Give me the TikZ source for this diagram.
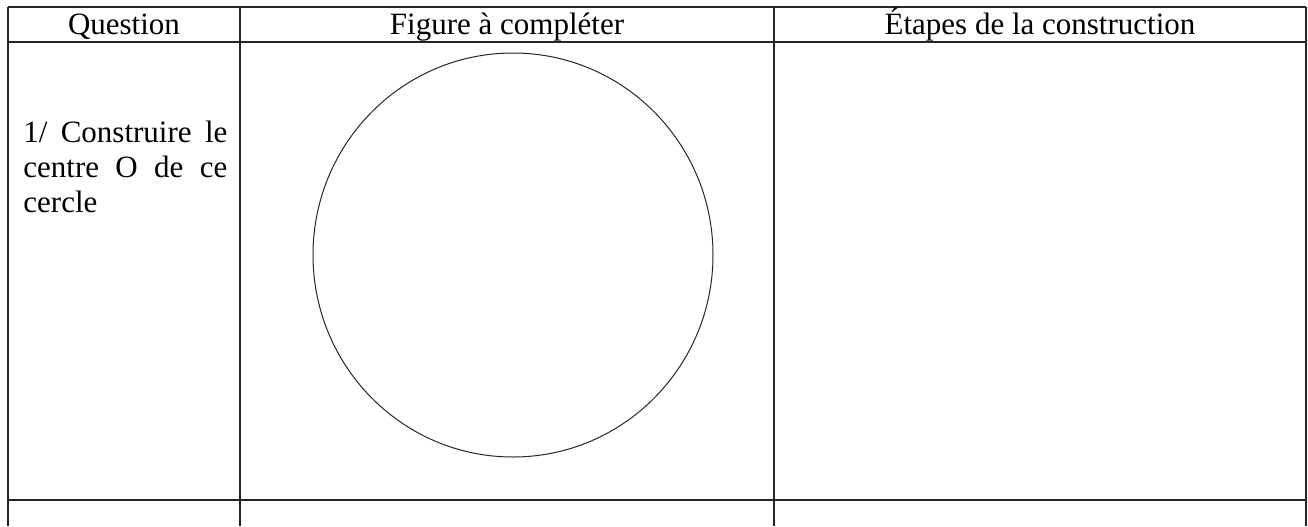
\documentclass[tikz,border=0pt]{standalone}
\usepackage{fontspec}
\setmainfont{Liberation Serif}
\usepackage{tikz}

\begin{document}
\begin{tikzpicture}[x=0.5pt,y=-0.5pt,line join=round,
  rule/.style={line width=0.7pt,black!85},
  txt/.style={inner sep=0pt,font=\fontsize{15.5}{17.5}\selectfont}]
  \useasboundingbox (0,0) rectangle (1308,526);
  \coordinate (N0) at (8,7);
  \coordinate (N1) at (240,7);
  \coordinate (N2) at (774,7);
  \coordinate (N3) at (1306,7);
  \coordinate (M0) at (8,42);
  \coordinate (M3) at (1306,42);
  \coordinate (L0) at (8,500);
  \coordinate (L3) at (1306,500);
  \coordinate (S0) at (8,526);
  \coordinate (S1) at (240,526);
  \coordinate (S2) at (774,526);
  \coordinate (S3) at (1306,526);
  \coordinate (O) at (513,255);
  \draw[rule] (N0) -- (N3);
  \draw[rule] (M0) -- (M3);
  \draw[rule] (L0) -- (L3);
  \draw[rule] (N0) -- (S0);
  \draw[rule] (N1) -- (S1);
  \draw[rule] (N2) -- (S2);
  \draw[rule] (N3) -- (S3);
  \draw[line width=0.5pt,black!85] (O) ellipse [x radius=200,y radius=202];
  \node[txt,anchor=base] (colQ) at (124,34) {Question};
  \node[txt,anchor=base] (colF) at (507,34) {Figure à compléter};
  \node[txt,anchor=base] (colE) at (1040,34) {Étapes de la construction};
  \node[txt,anchor=base west,text width=102pt,align=left] (q1) at (23,142)
    {1/\hfill Construire\hfill le\\ centre\hfill O\hfill de\hfill ce\\ cercle};
\end{tikzpicture}
\end{document}
